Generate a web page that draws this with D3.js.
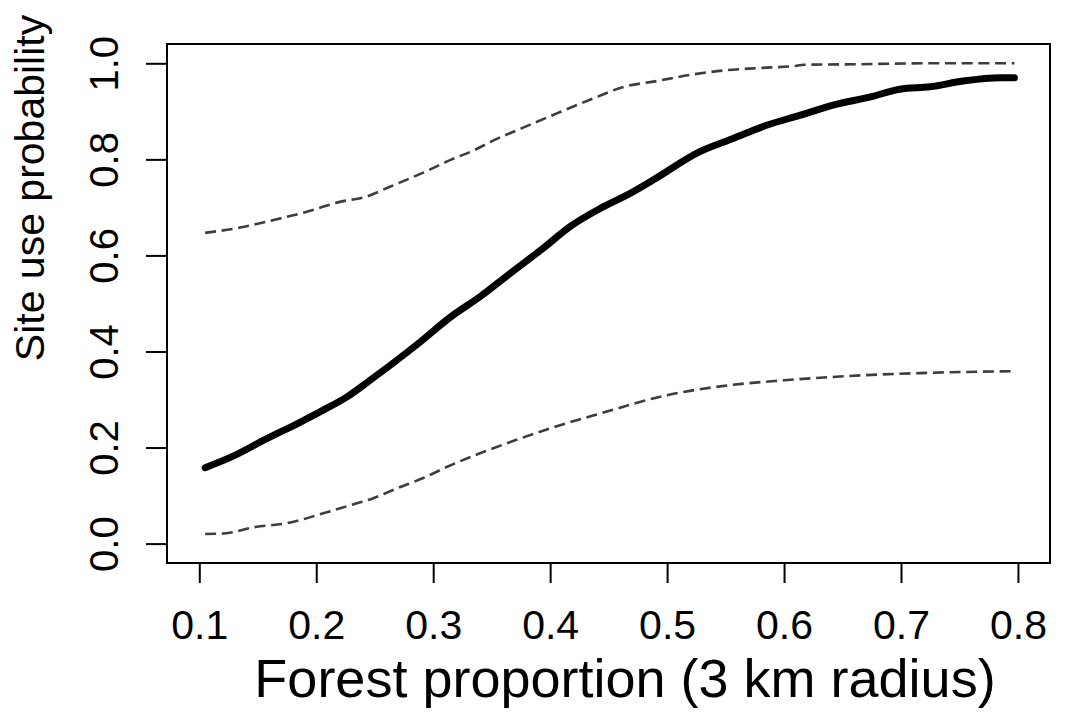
<!DOCTYPE html>
<html>
<head>
<meta charset="utf-8">
<script src="https://cdn.jsdelivr.net/npm/d3@7"></script>
<style>
  body { margin: 0; background: #fff; }
  text { font-family: "Liberation Sans", Arial, Helvetica, sans-serif; fill: #000; }
</style>
</head>
<body>
<div id="chart"></div>
<script>
// values
var meanX = [0.105, 0.129, 0.158, 0.184, 0.206, 0.226, 0.246, 0.289, 0.315, 0.340, 0.366,
  0.394, 0.417, 0.443, 0.466, 0.488, 0.528, 0.557, 0.585, 0.614, 0.642, 0.674, 0.699,
  0.725, 0.753, 0.785, 0.797];
var meanY = [0.158, 0.182, 0.219, 0.250, 0.278, 0.305, 0.340, 0.420, 0.472, 0.514, 0.563,
  0.615, 0.660, 0.698, 0.726, 0.757, 0.816, 0.844, 0.871, 0.892, 0.913, 0.930, 0.946,
  0.951, 0.963, 0.970, 0.970];

var upperX = [0.105, 0.135, 0.164, 0.192, 0.221, 0.241, 0.263, 0.292, 0.315, 0.335, 0.352,
  0.374, 0.404, 0.434, 0.463, 0.491, 0.520, 0.548, 0.577, 0.611, 0.617, 0.662, 0.719, 0.797];
var upperY = [0.647, 0.658, 0.674, 0.691, 0.712, 0.721, 0.743, 0.773, 0.799, 0.819, 0.840,
  0.863, 0.894, 0.924, 0.951, 0.963, 0.976, 0.985, 0.990, 0.995, 0.997, 0.998, 1.0, 1.0];

var lowerX = [0.105, 0.121, 0.149, 0.174, 0.206, 0.232, 0.246, 0.269, 0.292, 0.312, 0.340,
  0.370, 0.400, 0.443, 0.500, 0.554, 0.600, 0.656, 0.716, 0.797];
var lowerY = [0.020, 0.021, 0.035, 0.042, 0.063, 0.082, 0.092, 0.115, 0.137, 0.160, 0.188,
  0.215, 0.240, 0.271, 0.309, 0.330, 0.340, 0.349, 0.355, 0.359];

var xTicks = [0.1, 0.2, 0.3, 0.4, 0.5, 0.6, 0.7, 0.8];
var yTicks = [0.0, 0.2, 0.4, 0.6, 0.8, 1.0];

var svgWidth = 1078;
var svgHeight = 725;

var margin = { top: 44, right: 28, bottom: 162, left: 167 };
var width = svgWidth - margin.left - margin.right;
var height = svgHeight - margin.top - margin.bottom;

var svg = d3.select("#chart")
  .append("svg")
  .attr("width", svgWidth)
  .attr("height", svgHeight);

var chartGroup = svg.append("g")
  .attr("transform", `translate(${margin.left}, ${margin.top})`);

var xScale = d3.scaleLinear()
  .domain([0.0724, 0.8274])
  .range([0, width]);

var yScale = d3.scaleLinear()
  .domain([-0.0404, 1.0402])
  .range([height, 0]);

// box round the plot region
chartGroup.append("rect")
  .attr("x", 0)
  .attr("y", 0)
  .attr("width", width)
  .attr("height", height)
  .attr("fill", "none")
  .attr("stroke", "#000")
  .attr("stroke-width", 2);

// axes, R style: ticks outside
var bottomAxis = d3.axisBottom(xScale)
  .tickValues(xTicks)
  .tickSize(20)
  .tickFormat(d3.format(".1f"));

var leftAxis = d3.axisLeft(yScale)
  .tickValues(yTicks)
  .tickSize(21)
  .tickFormat(d3.format(".1f"));

var xAxisG = chartGroup.append("g")
  .attr("transform", `translate(0, ${height})`)
  .call(bottomAxis);
xAxisG.select(".domain").remove();
xAxisG.selectAll("line").attr("stroke", "#000").attr("stroke-width", 2);
xAxisG.selectAll("text")
  .attr("font-size", 41)
  .attr("dy", null)
  .attr("y", 76);

var yAxisG = chartGroup.append("g")
  .call(leftAxis);
yAxisG.select(".domain").remove();
yAxisG.selectAll("line").attr("stroke", "#000").attr("stroke-width", 2);
yAxisG.selectAll("text")
  .attr("font-size", 40)
  .attr("text-anchor", "middle")
  .attr("x", null)
  .attr("dy", null)
  .attr("transform", "translate(-49, 0) rotate(-90)");

// lines
var line = d3.line()
  .x(d => xScale(d[0]))
  .y(d => yScale(d[1]))
  .curve(d3.curveMonotoneX);

var upper = d3.zip(upperX, upperY);
var lower = d3.zip(lowerX, lowerY);
var mean = d3.zip(meanX, meanY);

[upper, lower].forEach(function(ci) {
  chartGroup.append("path")
    .datum(ci)
    .attr("d", line)
    .attr("fill", "none")
    .attr("stroke", "#3d3d3d")
    .attr("stroke-width", 2.6)
    .attr("stroke-dasharray", "11,5.7");
});

chartGroup.append("path")
  .datum(mean)
  .attr("d", line)
  .attr("fill", "none")
  .attr("stroke", "#000")
  .attr("stroke-width", 7)
  .attr("stroke-linecap", "round")
  .attr("stroke-linejoin", "round");

// axis labels
svg.append("text")
  .attr("transform", "translate(44, 188) rotate(-90)")
  .attr("text-anchor", "middle")
  .attr("font-size", 41)
  .text("Site use probability");

svg.append("text")
  .attr("x", 625)
  .attr("y", 697)
  .attr("text-anchor", "middle")
  .attr("font-size", 54)
  .text("Forest proportion (3 km radius)");
</script>
</body>
</html>
